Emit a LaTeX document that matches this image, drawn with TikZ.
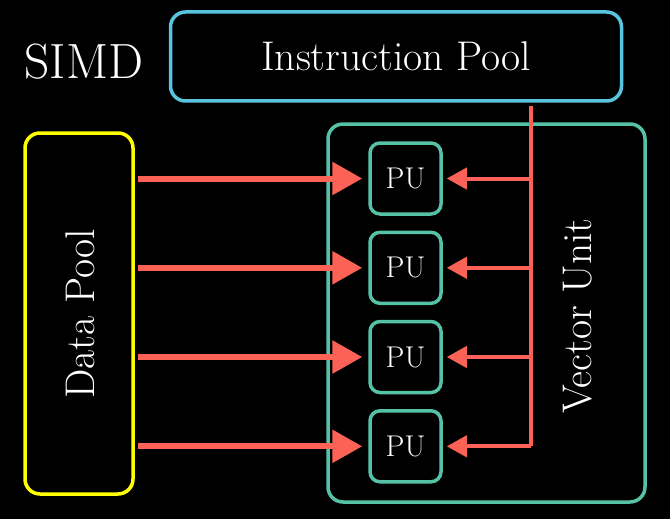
\documentclass[tikz,border=0pt]{standalone}
\usetikzlibrary{arrows.meta}
\definecolor{mred}{HTML}{FC6255}
\definecolor{myellow}{HTML}{FFFF00}
\definecolor{mblue}{HTML}{58C4DD}
\definecolor{mteal}{HTML}{55C1A7}
\begin{document}
\begin{tikzpicture}[x=1pt,y=1pt,
  box/.style={draw, rounded corners=15pt, line width=3.5pt, text=white, inner sep=0pt},
  pubox/.style={draw=mteal, rounded corners=10pt, line width=3.5pt, text=white,
    minimum width=71pt, minimum height=71pt, inner sep=0pt,
    font=\fontsize{30}{32}\selectfont},
  bigarrow/.style={draw=mred, line width=6pt, -{Triangle[length=30pt,width=32pt]}},
  smallarrow/.style={draw=mred, line width=4pt, -{Triangle[length=20pt,width=21pt]}},
  bigtext/.style={font=\fontsize{41.5}{44}\selectfont}
]
\fill[black] (0,0) rectangle (670,-519);
\useasboundingbox (0,0) rectangle (670,-519);

\node[text=white, font=\fontsize{49.5}{52}\selectfont] (simd) at (84,-62) {SIMD};

\node[box, draw=mblue, minimum width=451pt, minimum height=89pt, bigtext] (ip) at (396,-56.5) {Instruction Pool};

\node[box, draw=myellow, minimum width=108pt, minimum height=361pt] (dp) at (79,-313.5) {};
\node[text=white, rotate=90, bigtext] (dptext) at (80,-314) {Data Pool};

\node[box, draw=mteal, minimum width=317pt, minimum height=378pt] (vu) at (486.5,-313) {};
\node[text=white, rotate=90, bigtext] (vutext) at (578,-316) {Vector Unit};

\node[pubox] (pu1) at (405.5,-178.5) {PU};
\node[pubox] (pu2) at (405.5,-267.8) {PU};
\node[pubox] (pu3) at (405.5,-357) {PU};
\node[pubox] (pu4) at (405.5,-446.3) {PU};

\coordinate (bustop) at (531,-106);
\coordinate (busbot) at (531,-446.3);
\draw[mred, line width=4pt] (bustop) -- (busbot);

\foreach \i in {1,2,3,4} {
  \draw[bigarrow, shorten <=3pt, shorten >=6pt] (dp.east |- pu\i) -- (pu\i.west);
  \draw[smallarrow, shorten >=4pt] (bustop |- pu\i) -- (pu\i.east);
}
\end{tikzpicture}
\end{document}
